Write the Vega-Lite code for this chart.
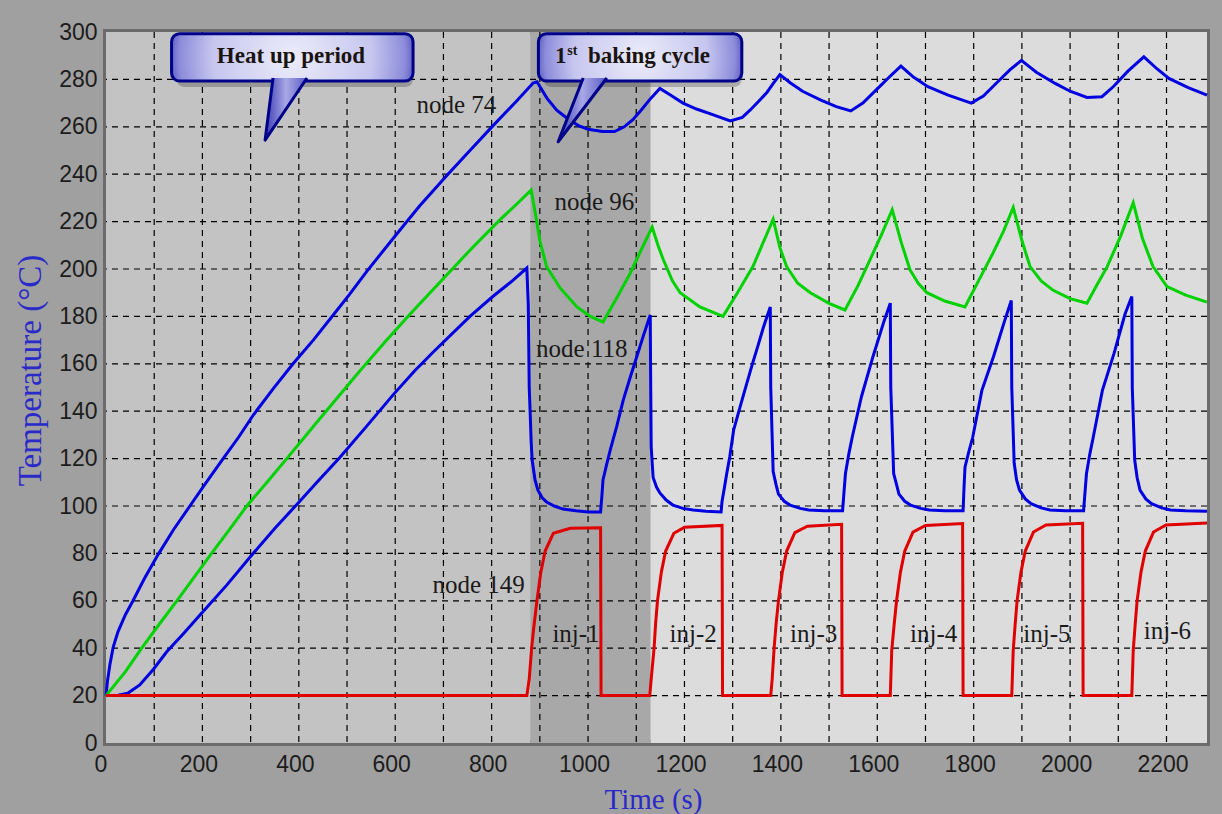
{
"$schema": "https://vega.github.io/schema/vega-lite/v6.json",
"width": 1101, "height": 711,
"autosize": {"type": "none"},
"padding": {"left": 106, "top": 32, "right": 15, "bottom": 71},
"background": "#a0a0a0",
"config": {
  "view": {"stroke": "#6b6b6b", "strokeWidth": 6, "fill": "#dcdcdc"},
  "axis": {"grid": false, "ticks": false, "domain": true, "domainColor": "#6b6b6b", "domainWidth": 3, "zindex": 1,
           "labelFont": "Liberation Sans", "labelFontSize": 23, "labelColor": "#1c1c1c",
           "titleFont": "Liberation Serif", "titleFontWeight": "normal", "titleColor": "#2a2ac8", "titleFontSize": 29}
},
"datasets": {
  "regions": [{"t": 0, "t2": 880, "c": "heat"}, {"t": 880, "t2": 1130, "c": "bake"}, {"t": 1130, "t2": 2284, "c": "rest"}],
  "gx": [{"t":100},{"t":200},{"t":300},{"t":400},{"t":500},{"t":600},{"t":700},{"t":800},{"t":900},{"t":1000},{"t":1100},{"t":1200},{"t":1300},{"t":1400},{"t":1500},{"t":1600},{"t":1700},{"t":1800},{"t":1900},{"t":2000},{"t":2100},{"t":2200}],
  "gy": [{"T":20},{"T":40},{"T":60},{"T":80},{"T":100},{"T":120},{"T":140},{"T":160},{"T":180},{"T":200},{"T":220},{"T":240},{"T":260},{"T":280}],
  "curves": [
{"s":"node 74","t":0,"T":20},{"s":"node 74","t":3,"T":26},{"s":"node 74","t":8,"T":33},{"s":"node 74","t":15,"T":40.5},{"s":"node 74","t":25,"T":47},{"s":"node 74","t":40,"T":54},{"s":"node 74","t":56,"T":60},{"s":"node 74","t":80,"T":69.5},{"s":"node 74","t":108,"T":79.5},{"s":"node 74","t":140,"T":90},{"s":"node 74","t":174,"T":100},{"s":"node 74","t":208,"T":110},{"s":"node 74","t":243,"T":120},{"s":"node 74","t":275,"T":129},{"s":"node 74","t":306,"T":138.5},{"s":"node 74","t":347,"T":149.5},{"s":"node 74","t":388,"T":160},{"s":"node 74","t":430,"T":170},{"s":"node 74","t":471,"T":180.5},{"s":"node 74","t":506,"T":189.5},{"s":"node 74","t":541,"T":199},{"s":"node 74","t":596,"T":213},{"s":"node 74","t":650,"T":226.5},{"s":"node 74","t":707,"T":239.5},{"s":"node 74","t":755,"T":250},{"s":"node 74","t":803,"T":260.5},{"s":"node 74","t":850,"T":270.5},{"s":"node 74","t":886,"T":278.5},
{"s":"node 74","t":894,"T":279},{"s":"node 74","t":915,"T":272},{"s":"node 74","t":935,"T":267},{"s":"node 74","t":956,"T":263.7},{"s":"node 74","t":980,"T":260.5},{"s":"node 74","t":1000,"T":259},{"s":"node 74","t":1030,"T":258},{"s":"node 74","t":1055,"T":258},{"s":"node 74","t":1075,"T":260},{"s":"node 74","t":1093,"T":263},{"s":"node 74","t":1110,"T":267},{"s":"node 74","t":1130,"T":272},{"s":"node 74","t":1149,"T":276.2},{"s":"node 74","t":1170,"T":273.5},{"s":"node 74","t":1197,"T":270},{"s":"node 74","t":1225,"T":267.5},{"s":"node 74","t":1260,"T":265},{"s":"node 74","t":1295,"T":262.5},{"s":"node 74","t":1320,"T":264},{"s":"node 74","t":1336,"T":267},{"s":"node 74","t":1355,"T":271},{"s":"node 74","t":1371,"T":274.5},{"s":"node 74","t":1385,"T":278.5},{"s":"node 74","t":1398,"T":282},{"s":"node 74","t":1420,"T":278.5},{"s":"node 74","t":1445,"T":275},{"s":"node 74","t":1483,"T":271.3},{"s":"node 74","t":1515,"T":268.5},{"s":"node 74","t":1545,"T":266.7},{"s":"node 74","t":1570,"T":270},{"s":"node 74","t":1600,"T":276},{"s":"node 74","t":1625,"T":281},{"s":"node 74","t":1649,"T":285.6},{"s":"node 74","t":1675,"T":281},{"s":"node 74","t":1705,"T":276.9},{"s":"node 74","t":1747,"T":273.4},{"s":"node 74","t":1795,"T":270},{"s":"node 74","t":1820,"T":273},{"s":"node 74","t":1850,"T":279},{"s":"node 74","t":1875,"T":284},{"s":"node 74","t":1899,"T":288},{"s":"node 74","t":1930,"T":283},{"s":"node 74","t":1969,"T":278.3},{"s":"node 74","t":2000,"T":275},{"s":"node 74","t":2035,"T":272.4},{"s":"node 74","t":2066,"T":272.7},{"s":"node 74","t":2090,"T":277},{"s":"node 74","t":2120,"T":283.5},{"s":"node 74","t":2153,"T":289.5},{"s":"node 74","t":2180,"T":284.5},{"s":"node 74","t":2205,"T":280.4},{"s":"node 74","t":2245,"T":276.5},{"s":"node 74","t":2284,"T":273.4},
{"s":"node 96","t":0,"T":20},{"s":"node 96","t":10,"T":22.5},{"s":"node 96","t":40,"T":30},{"s":"node 96","t":74,"T":40},{"s":"node 96","t":110,"T":50},{"s":"node 96","t":147,"T":60},{"s":"node 96","t":183,"T":70},{"s":"node 96","t":219,"T":80},{"s":"node 96","t":256,"T":90},{"s":"node 96","t":292,"T":100},{"s":"node 96","t":334,"T":110},{"s":"node 96","t":375,"T":120},{"s":"node 96","t":440,"T":136},{"s":"node 96","t":506,"T":152},{"s":"node 96","t":533,"T":158.5},{"s":"node 96","t":580,"T":169.5},{"s":"node 96","t":631,"T":181},{"s":"node 96","t":700,"T":196},{"s":"node 96","t":760,"T":209},{"s":"node 96","t":817,"T":220.7},{"s":"node 96","t":850,"T":227},{"s":"node 96","t":882,"T":233.3},
{"s":"node 96","t":892,"T":222},{"s":"node 96","t":900,"T":212},{"s":"node 96","t":914,"T":201},{"s":"node 96","t":942,"T":192},{"s":"node 96","t":977,"T":184},{"s":"node 96","t":1005,"T":180},{"s":"node 96","t":1031,"T":177.6},{"s":"node 96","t":1060,"T":188},{"s":"node 96","t":1087,"T":198},{"s":"node 96","t":1110,"T":208},{"s":"node 96","t":1133,"T":217.7},{"s":"node 96","t":1145,"T":210},{"s":"node 96","t":1156,"T":204},{"s":"node 96","t":1175,"T":195},{"s":"node 96","t":1191,"T":190},{"s":"node 96","t":1232,"T":184},{"s":"node 96","t":1280,"T":180},{"s":"node 96","t":1310,"T":190},{"s":"node 96","t":1342,"T":201},{"s":"node 96","t":1365,"T":212},{"s":"node 96","t":1384,"T":221},{"s":"node 96","t":1398,"T":209},{"s":"node 96","t":1412,"T":201},{"s":"node 96","t":1435,"T":194},{"s":"node 96","t":1461,"T":190},{"s":"node 96","t":1500,"T":185.5},{"s":"node 96","t":1533,"T":182.7},{"s":"node 96","t":1560,"T":193},{"s":"node 96","t":1585,"T":204},{"s":"node 96","t":1610,"T":215},{"s":"node 96","t":1631,"T":225},{"s":"node 96","t":1650,"T":211},{"s":"node 96","t":1668,"T":199.6},{"s":"node 96","t":1685,"T":194},{"s":"node 96","t":1703,"T":190},{"s":"node 96","t":1740,"T":186.5},{"s":"node 96","t":1782,"T":184},{"s":"node 96","t":1810,"T":195},{"s":"node 96","t":1840,"T":206.7},{"s":"node 96","t":1862,"T":216},{"s":"node 96","t":1882,"T":226},{"s":"node 96","t":1900,"T":212},{"s":"node 96","t":1917,"T":201},{"s":"node 96","t":1940,"T":195},{"s":"node 96","t":1965,"T":191},{"s":"node 96","t":2000,"T":187.5},{"s":"node 96","t":2035,"T":185.6},{"s":"node 96","t":2055,"T":193},{"s":"node 96","t":2077,"T":201},{"s":"node 96","t":2105,"T":214},{"s":"node 96","t":2131,"T":228},{"s":"node 96","t":2150,"T":213},{"s":"node 96","t":2172,"T":201},{"s":"node 96","t":2201,"T":192.6},{"s":"node 96","t":2240,"T":189},{"s":"node 96","t":2284,"T":186},
{"s":"node 118","t":0,"T":20},{"s":"node 118","t":25,"T":20.2},{"s":"node 118","t":45,"T":21},{"s":"node 118","t":70,"T":24.5},{"s":"node 118","t":98,"T":31},{"s":"node 118","t":126,"T":38.5},{"s":"node 118","t":160,"T":46},{"s":"node 118","t":195,"T":54},{"s":"node 118","t":250,"T":66.5},{"s":"node 118","t":299,"T":78.5},{"s":"node 118","t":350,"T":90.5},{"s":"node 118","t":402,"T":102},{"s":"node 118","t":440,"T":110.5},{"s":"node 118","t":485,"T":120.5},{"s":"node 118","t":540,"T":133.5},{"s":"node 118","t":596,"T":147},{"s":"node 118","t":640,"T":157},{"s":"node 118","t":679,"T":165},{"s":"node 118","t":755,"T":180},{"s":"node 118","t":803,"T":188.5},{"s":"node 118","t":840,"T":194.5},{"s":"node 118","t":873,"T":200.4},
{"s":"node 118","t":876,"T":185},{"s":"node 118","t":878,"T":150},{"s":"node 118","t":880,"T":139},{"s":"node 118","t":882,"T":127},{"s":"node 118","t":884,"T":119.4},{"s":"node 118","t":890,"T":111},{"s":"node 118","t":896,"T":106.7},{"s":"node 118","t":905,"T":103.5},{"s":"node 118","t":914,"T":101.7},{"s":"node 118","t":930,"T":100},{"s":"node 118","t":948,"T":98.7},{"s":"node 118","t":975,"T":98},{"s":"node 118","t":1000,"T":97.5},{"s":"node 118","t":1026,"T":97.5},
{"s":"node 118","t":1029,"T":105},{"s":"node 118","t":1031,"T":111},{"s":"node 118","t":1038,"T":117},{"s":"node 118","t":1046,"T":123.6},{"s":"node 118","t":1060,"T":134},{"s":"node 118","t":1073,"T":144.7},{"s":"node 118","t":1087,"T":154},{"s":"node 118","t":1101,"T":163},{"s":"node 118","t":1115,"T":172},{"s":"node 118","t":1129,"T":180.6},
{"s":"node 118","t":1130,"T":150},{"s":"node 118","t":1131,"T":125},{"s":"node 118","t":1135,"T":112},{"s":"node 118","t":1142,"T":108},{"s":"node 118","t":1149,"T":105.5},{"s":"node 118","t":1162,"T":102.5},{"s":"node 118","t":1176,"T":100.4},{"s":"node 118","t":1197,"T":99},{"s":"node 118","t":1218,"T":98.3},{"s":"node 118","t":1245,"T":97.8},{"s":"node 118","t":1276,"T":97.5},
{"s":"node 118","t":1278,"T":102},{"s":"node 118","t":1282,"T":106.7},{"s":"node 118","t":1288,"T":114},{"s":"node 118","t":1294,"T":120.8},{"s":"node 118","t":1302,"T":132},{"s":"node 118","t":1317,"T":143},{"s":"node 118","t":1329,"T":151.5},{"s":"node 118","t":1341,"T":160},{"s":"node 118","t":1353,"T":168},{"s":"node 118","t":1364,"T":175.5},{"s":"node 118","t":1378,"T":184},
{"s":"node 118","t":1379,"T":150},{"s":"node 118","t":1384,"T":114.5},{"s":"node 118","t":1390,"T":109},{"s":"node 118","t":1395,"T":105},{"s":"node 118","t":1407,"T":102},{"s":"node 118","t":1419,"T":100.4},{"s":"node 118","t":1440,"T":99},{"s":"node 118","t":1458,"T":98.3},{"s":"node 118","t":1490,"T":98},{"s":"node 118","t":1528,"T":98},
{"s":"node 118","t":1531,"T":106},{"s":"node 118","t":1534,"T":113.7},{"s":"node 118","t":1541,"T":122},{"s":"node 118","t":1548,"T":129},{"s":"node 118","t":1567,"T":146},{"s":"node 118","t":1591,"T":163},{"s":"node 118","t":1614,"T":178},{"s":"node 118","t":1627,"T":185.6},
{"s":"node 118","t":1628,"T":150},{"s":"node 118","t":1634,"T":113.7},{"s":"node 118","t":1640,"T":109},{"s":"node 118","t":1645,"T":105},{"s":"node 118","t":1657,"T":102},{"s":"node 118","t":1669,"T":100.4},{"s":"node 118","t":1690,"T":99},{"s":"node 118","t":1708,"T":98.3},{"s":"node 118","t":1740,"T":98},{"s":"node 118","t":1778,"T":98},
{"s":"node 118","t":1780,"T":108},{"s":"node 118","t":1782,"T":116.5},{"s":"node 118","t":1790,"T":123},{"s":"node 118","t":1798,"T":129},{"s":"node 118","t":1817,"T":148.8},{"s":"node 118","t":1841,"T":163},{"s":"node 118","t":1864,"T":178},{"s":"node 118","t":1878,"T":186.7},
{"s":"node 118","t":1879,"T":150},{"s":"node 118","t":1884,"T":118},{"s":"node 118","t":1889,"T":111},{"s":"node 118","t":1895,"T":106.7},{"s":"node 118","t":1907,"T":103},{"s":"node 118","t":1919,"T":101},{"s":"node 118","t":1940,"T":99.2},{"s":"node 118","t":1958,"T":98.3},{"s":"node 118","t":1990,"T":98},{"s":"node 118","t":2028,"T":98},
{"s":"node 118","t":2031,"T":106},{"s":"node 118","t":2034,"T":113.7},{"s":"node 118","t":2041,"T":122},{"s":"node 118","t":2048,"T":129},{"s":"node 118","t":2067,"T":148.8},{"s":"node 118","t":2091,"T":164.3},{"s":"node 118","t":2114,"T":181},{"s":"node 118","t":2128,"T":188.4},
{"s":"node 118","t":2129,"T":150},{"s":"node 118","t":2134,"T":119.4},{"s":"node 118","t":2139,"T":112},{"s":"node 118","t":2145,"T":106.7},{"s":"node 118","t":2157,"T":103},{"s":"node 118","t":2169,"T":101},{"s":"node 118","t":2190,"T":99.2},{"s":"node 118","t":2208,"T":98.3},{"s":"node 118","t":2240,"T":98},{"s":"node 118","t":2284,"T":97.8},
{"s":"node 149","t":0,"T":20},{"s":"node 149","t":873,"T":20},{"s":"node 149","t":878,"T":27},{"s":"node 149","t":883,"T":40},{"s":"node 149","t":887,"T":48},{"s":"node 149","t":894,"T":60},{"s":"node 149","t":902,"T":72},{"s":"node 149","t":911,"T":81},{"s":"node 149","t":928,"T":88.5},{"s":"node 149","t":963,"T":90.6},{"s":"node 149","t":1026,"T":90.8},{"s":"node 149","t":1027,"T":20},
{"s":"node 149","t":1128,"T":20},{"s":"node 149","t":1131,"T":27},{"s":"node 149","t":1137,"T":40},{"s":"node 149","t":1140,"T":50},{"s":"node 149","t":1144,"T":60},{"s":"node 149","t":1152,"T":72},{"s":"node 149","t":1161,"T":81},{"s":"node 149","t":1178,"T":88.5},{"s":"node 149","t":1200,"T":91},{"s":"node 149","t":1278,"T":91.8},{"s":"node 149","t":1279,"T":20},
{"s":"node 149","t":1379,"T":20},{"s":"node 149","t":1382,"T":27},{"s":"node 149","t":1386,"T":40},{"s":"node 149","t":1390,"T":50},{"s":"node 149","t":1395,"T":60},{"s":"node 149","t":1403,"T":72},{"s":"node 149","t":1412,"T":81},{"s":"node 149","t":1429,"T":88.8},{"s":"node 149","t":1455,"T":91.5},{"s":"node 149","t":1526,"T":92.3},{"s":"node 149","t":1527,"T":20},
{"s":"node 149","t":1627,"T":20},{"s":"node 149","t":1630,"T":39},{"s":"node 149","t":1635,"T":50},{"s":"node 149","t":1640,"T":60},{"s":"node 149","t":1648,"T":72},{"s":"node 149","t":1657,"T":81},{"s":"node 149","t":1674,"T":89},{"s":"node 149","t":1700,"T":91.8},{"s":"node 149","t":1777,"T":92.6},{"s":"node 149","t":1778,"T":20},
{"s":"node 149","t":1879,"T":20},{"s":"node 149","t":1882,"T":39},{"s":"node 149","t":1886,"T":50},{"s":"node 149","t":1890,"T":60},{"s":"node 149","t":1898,"T":72},{"s":"node 149","t":1907,"T":81},{"s":"node 149","t":1924,"T":89},{"s":"node 149","t":1950,"T":92},{"s":"node 149","t":2026,"T":92.7},{"s":"node 149","t":2027,"T":20},
{"s":"node 149","t":2128,"T":20},{"s":"node 149","t":2131,"T":39},{"s":"node 149","t":2135,"T":50},{"s":"node 149","t":2139,"T":60},{"s":"node 149","t":2147,"T":72},{"s":"node 149","t":2156,"T":81},{"s":"node 149","t":2173,"T":89},{"s":"node 149","t":2199,"T":92},{"s":"node 149","t":2284,"T":92.8}
  ],
  "boxes": [{"c": "heat", "t": 136, "t2": 637, "T": 279.3, "T2": 299.3}, {"c": "bake", "t": 897, "t2": 1319, "T": 279.3, "T2": 299.3}],
  "tails": [{"c": "heat", "k": 1, "t": 417, "T": 280.6}, {"c": "heat", "k": 2, "t": 330, "T": 254.4}, {"c": "heat", "k": 3, "t": 346.5, "T": 280.6},
            {"c": "bake", "k": 1, "t": 1039, "T": 280.6}, {"c": "bake", "k": 2, "t": 938, "T": 253.7}, {"c": "bake", "k": 3, "t": 990, "T": 280.6}],
  "labels": [{"txt": "node 74", "t": 727, "T": 265.7}, {"txt": "node 96", "t": 1013, "T": 225}, {"txt": "node 118", "t": 987, "T": 163}, {"txt": "node 149", "t": 773, "T": 63.2},
             {"txt": "inj-1", "t": 975, "T": 42.7}, {"txt": "inj-2", "t": 1218, "T": 42.7}, {"txt": "inj-3", "t": 1468, "T": 42.7}, {"txt": "inj-4", "t": 1717, "T": 42.7}, {"txt": "inj-5", "t": 1952, "T": 42.7}, {"txt": "inj-6", "t": 2202, "T": 44}],
  "ctext": [{"txt": "Heat up period", "t": 230, "T": 286.8}, {"txt": "1", "t": 931.5, "T": 286.8}, {"txt": "baking cycle", "t": 1000, "T": 286.8}],
  "sup": [{"txt": "st", "t": 957, "T": 290.5}]
},
"layer": [
  {
    "data": {"name": "regions"},
    "mark": {"type": "rect"},
    "encoding": {
      "x": {"field": "t", "type": "quantitative", "scale": {"domain": [0, 2284], "nice": false, "zero": false},
            "axis": {"title": "Time (s)", "format": "d", "values": [0,200,400,600,800,1000,1200,1400,1600,1800,2000,2200],
                     "labelPadding": 10, "labelOffset": {"condition": {"test": "datum.value == 0", "value": -12}, "value": -4},
                     "titleX": 547, "titleY": 65, "titleBaseline": "alphabetic"}},
      "x2": {"field": "t2"},
      "fill": {"field": "c", "type": "nominal", "scale": {"domain": ["heat", "bake", "rest"], "range": ["#c3c3c3", "#a8a8a8", "#dcdcdc"]}, "legend": null}
    }
  },
  {
    "data": {"name": "gx"},
    "mark": {"type": "rule", "color": "#000000", "strokeWidth": 1.2, "strokeDash": [6, 5]},
    "encoding": {"x": {"field": "t", "type": "quantitative"}}
  },
  {
    "data": {"name": "gy"},
    "mark": {"type": "rule", "color": "#000000", "strokeWidth": 1.2, "strokeDash": [6, 5]},
    "encoding": {"y": {"field": "T", "type": "quantitative"}}
  },
  {
    "data": {"name": "curves"},
    "mark": {"type": "line", "strokeWidth": 3},
    "encoding": {
      "x": {"field": "t", "type": "quantitative"},
      "y": {"field": "T", "type": "quantitative", "scale": {"domain": [0, 300], "nice": false},
            "axis": {"title": "Temperature (°C)", "values": [0,20,40,60,80,100,120,140,160,180,200,220,240,260,280,300],
                     "labelPadding": 9, "titleX": -66, "titleY": 338, "titleFontSize": 33, "titleBaseline": "alphabetic"}},
      "color": {"field": "s", "type": "nominal", "scale": {"domain": ["node 74", "node 96", "node 118", "node 149"], "range": ["#0000e0", "#00d200", "#0000e0", "#e00000"]}, "legend": null},
      "detail": {"field": "s"}
    }
  },
  {
    "data": {"name": "boxes"},
    "mark": {"type": "rect", "cornerRadius": 8, "fill": "#000000", "opacity": 0.22, "xOffset": 5, "yOffset": 6},
    "encoding": {"x": {"field": "t", "type": "quantitative"}, "x2": {"field": "t2"}, "y": {"field": "T", "type": "quantitative"}, "y2": {"field": "T2"}}
  },
  {
    "data": {"name": "boxes"},
    "mark": {"type": "rect", "cornerRadius": 8, "stroke": "#000088", "strokeWidth": 3,
             "fill": {"gradient": "radial", "x1": 0.5, "y1": 0.5, "x2": 0.5, "y2": 0.5, "r1": 0, "r2": 0.55,
                      "stops": [{"offset": 0, "color": "#ececfb"}, {"offset": 0.6, "color": "#c6c6ef"}, {"offset": 0.85, "color": "#8c8cdb"}, {"offset": 1, "color": "#2c2caa"}]}},
    "encoding": {"x": {"field": "t", "type": "quantitative"}, "x2": {"field": "t2"}, "y": {"field": "T", "type": "quantitative"}, "y2": {"field": "T2"}}
  },
  {
    "data": {"name": "tails"},
    "mark": {"type": "line", "stroke": "#000088", "strokeWidth": 3, "strokeJoin": "round",
             "fill": {"gradient": "linear", "x1": 0, "y1": 0, "x2": 1, "y2": 0,
                      "stops": [{"offset": 0, "color": "#3a3ab4"}, {"offset": 0.5, "color": "#a8a8e6"}, {"offset": 1, "color": "#5a5ac4"}]}},
    "encoding": {"x": {"field": "t", "type": "quantitative"}, "y": {"field": "T", "type": "quantitative"}, "order": {"field": "k"}, "detail": {"field": "c"}}
  },
  {
    "data": {"name": "labels"},
    "mark": {"type": "text", "font": "Liberation Serif", "fontSize": 25, "color": "#1a1a1a", "align": "center", "baseline": "alphabetic"},
    "encoding": {"x": {"field": "t", "type": "quantitative"}, "y": {"field": "T", "type": "quantitative"}, "text": {"field": "txt"}}
  },
  {
    "data": {"name": "ctext"},
    "mark": {"type": "text", "font": "Liberation Serif", "fontWeight": "bold", "fontSize": 23, "color": "#1a1410", "align": "left", "baseline": "alphabetic"},
    "encoding": {"x": {"field": "t", "type": "quantitative"}, "y": {"field": "T", "type": "quantitative"}, "text": {"field": "txt"}}
  },
  {
    "data": {"name": "sup"},
    "mark": {"type": "text", "font": "Liberation Serif", "fontWeight": "bold", "fontSize": 14, "color": "#1a1410", "align": "left", "baseline": "alphabetic"},
    "encoding": {"x": {"field": "t", "type": "quantitative"}, "y": {"field": "T", "type": "quantitative"}, "text": {"field": "txt"}}
  }
]
}
